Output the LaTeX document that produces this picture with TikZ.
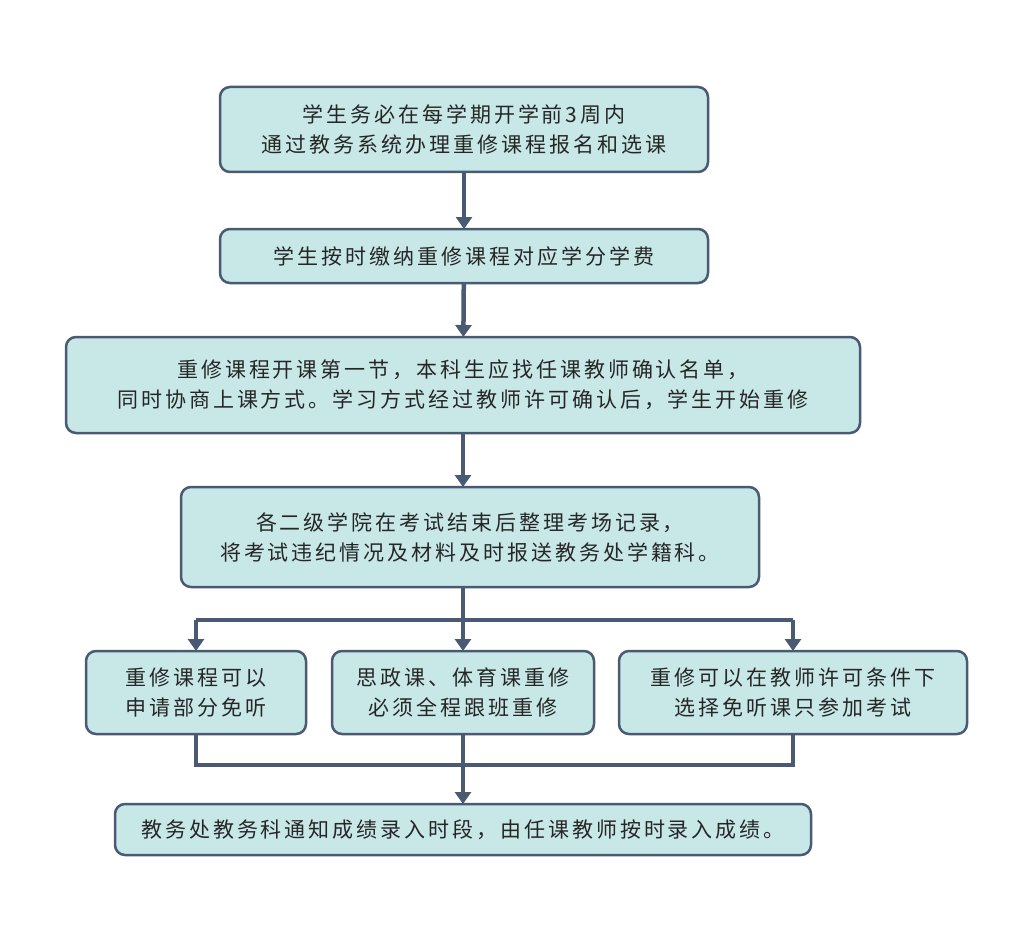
\documentclass[tikz,border=0pt]{standalone}
\usepackage{fontspec}
\newfontfamily\cjk[LetterSpace=14]{Noto Sans CJK SC}
\definecolor{boxfill}{HTML}{C8E8E8}
\definecolor{slate}{HTML}{4A5A72}
\definecolor{txt}{HTML}{262626}
\usetikzlibrary{arrows.meta,positioning,calc}

\begin{document}
\begin{tikzpicture}[x=1pt,y=-1pt,>={Triangle[width=16pt,length=12pt]},
  stepbox/.style={draw=slate,line width=2.5pt,fill=boxfill,rounded corners=10pt,align=center,text=txt,inner sep=0pt,outer sep=0pt,font=\cjk\fontsize{21}{30}\selectfont},
  link/.style={draw=slate,line width=4.5pt}]
\useasboundingbox (0,0) rectangle (1024,936);

\node[stepbox,minimum width=488pt,minimum height=85pt] (b1) at (464,129.5) {学生务必在每学期开学前3周内\\通过教务系统办理重修课程报名和选课};
\node[stepbox,minimum width=488pt,minimum height=54pt] (b2) [below=57pt of b1] {学生按时缴纳重修课程对应学分学费};
\node[stepbox,minimum width=794pt,minimum height=96pt] (b3) [below=54pt of b2, xshift=-1pt] {重修课程开课第一节，本科生应找任课教师确认名单，\\同时协商上课方式。学习方式经过教师许可确认后，学生开始重修};
\node[stepbox,minimum width=578pt,minimum height=100pt] (b4) [below=54pt of b3, xshift=7pt] {各二级学院在考试结束后整理考场记录，\\将考试违纪情况及材料及时报送教务处学籍科。};

% three ways
\node[stepbox,minimum width=262pt,minimum height=83pt] (mid) [below=64pt of b4, xshift=-7pt] {思政课、体育课重修\\必须全程跟班重修};
\node[stepbox,minimum width=220pt,minimum height=83pt] (lft) [left=26pt of mid] {重修课程可以\\申请部分免听};
\node[stepbox,minimum width=348pt,minimum height=83pt] (rgt) [right=25pt of mid] {重修可以在教师许可条件下\\选择免听课只参加考试};

\node[stepbox,minimum width=696pt,minimum height=51pt] (b5) [below=70pt of mid] {教务处教务科通知成绩录入时段，由任课教师按时录入成绩。};

\coordinate[above=31pt of mid.north] (fork);
\coordinate[below=31pt of mid.south] (join);

\draw[link] (fork -| lft) -- (fork -| rgt);
\draw[link] (lft) -- (lft.south |- join) -- (rgt.south |- join) -- (rgt);
\draw[link] (mid) -- (join);

\path[->,every edge/.style={link}]
    (b1) edge (b2)
    (b2) edge (b3)
    (b3.south) edge (b3.south |- b4.north)
    (b3.south |- b4.south) edge (mid)
    (fork -| lft) edge (lft)
    (fork -| rgt) edge (rgt)
    (join) edge (b5)
;
\end{tikzpicture}
\end{document}
